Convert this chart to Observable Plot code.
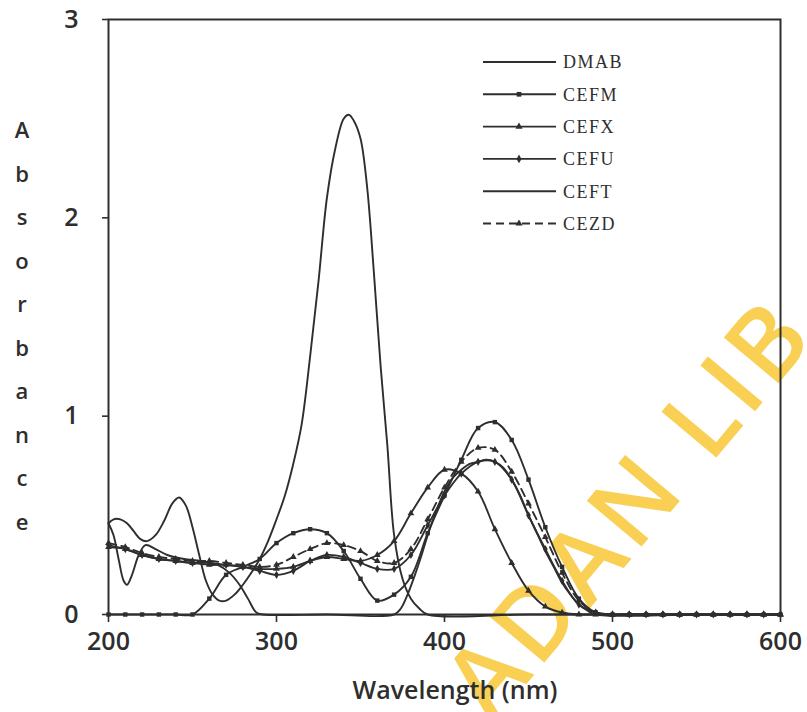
<!DOCTYPE html>
<html><head><meta charset="utf-8">
<script src="https://cdn.jsdelivr.net/npm/d3@7"></script>
<script src="https://cdn.jsdelivr.net/npm/@observablehq/plot@0.6"></script>
<style>
body{margin:0;background:#fff;overflow:hidden}
#wrap{position:relative;width:807px;height:712px;overflow:hidden;font-family:"Open Sans",sans-serif;color:#2e2e2e;background:#fff}
#wm{position:absolute;left:462px;top:650px;font-family:"Open Sans",sans-serif;font-weight:600;font-size:100px;color:rgba(248,200,60,0.88);transform-origin:0 50%;transform:rotate(-50deg);white-space:nowrap;letter-spacing:6px;line-height:1}
#chart{position:absolute;left:0;top:0}
#ylab{position:absolute;left:10px;top:108px;width:24px;text-align:center;font-size:22px;line-height:43.5px;font-weight:600}
#xlab{position:absolute;left:0;width:910px;top:672px;text-align:center;font-size:25px;font-weight:600;line-height:34px}
#legend{position:absolute;left:0;top:0}
</style></head><body>
<div id="wrap">
  <div id="wm">ADAN LIB</div>
  <div id="chart"></div>
  <div id="ylab"></div>
  <div id="xlab">Wavelength (nm)</div>
  <svg id="legend" width="807" height="712"></svg>
</div>
<script>
// ---- data ----
const wavelength = [200,210,220,230,240,250,260,270,280,290,300,310,320,330,340,350,360,370,380,390,400,410,420,430,440,450,460,470,480,490,500,510,520,530,540,550,560,570,580,590,600];
const cefm = [0,0,0,0,0,0,0.08,0.2,0.24,0.28,0.36,0.41,0.43,0.41,0.32,0.18,0.07,0.1,0.19,0.41,0.6,0.78,0.94,0.97,0.88,0.68,0.44,0.24,0.08,0.01,0,0,0,0,0,0,0,0,0,0,0];
const cefx = [0.34,0.33,0.3,0.28,0.27,0.26,0.25,0.25,0.24,0.23,0.23,0.24,0.27,0.29,0.28,0.27,0.3,0.37,0.51,0.64,0.73,0.71,0.62,0.43,0.26,0.12,0.04,0.01,0,0,0,0,0,0,0,0,0,0,0,0,0];
const cefu = [0.35,0.33,0.3,0.28,0.27,0.26,0.26,0.25,0.24,0.22,0.2,0.22,0.27,0.3,0.29,0.26,0.23,0.23,0.3,0.45,0.6,0.71,0.77,0.77,0.68,0.5,0.33,0.17,0.05,0.01,0,0,0,0,0,0,0,0,0,0,0];
const cezd = [0.36,0.34,0.31,0.29,0.28,0.27,0.27,0.26,0.25,0.24,0.25,0.29,0.33,0.36,0.35,0.32,0.27,0.26,0.33,0.48,0.64,0.77,0.84,0.83,0.72,0.56,0.39,0.21,0.07,0.01,0,0,0,0,0,0,0,0,0,0,0];
const dmabWl  = [200,203,207,211,215,219,223,228,233,238,242,246,250,254,258,262,266,270,275,280,285,290,295,300,305,310,315,320,325,330,335,340,343,346,350,354,358,362,366,370,375,380,385,390,450,500,550,600];
const dmabAbs = [0.46,0.48,0.48,0.46,0.42,0.38,0.37,0.4,0.47,0.56,0.59,0.55,0.44,0.3,0.17,0.1,0.07,0.07,0.1,0.15,0.21,0.28,0.37,0.48,0.6,0.76,0.96,1.3,1.68,2.1,2.35,2.5,2.52,2.49,2.4,2.15,1.72,1.25,0.85,0.4,0.18,0.08,0.03,0,0,0,0,0];
const ceftWl  = [200,203,206,209,211,214,218,222,228,235,245,255,265,272,278,283,288,292,330,370,374,378,382,386,390,395,400,405,410,415,420,425,430,435,440,445,450,455,460,465,470,475,480,485,490,550,600];
const ceftAbs = [0.46,0.4,0.28,0.17,0.15,0.2,0.3,0.35,0.33,0.3,0.28,0.27,0.25,0.21,0.15,0.08,0.01,0,0,0,0.03,0.1,0.19,0.29,0.4,0.52,0.62,0.69,0.73,0.76,0.77,0.78,0.77,0.74,0.68,0.6,0.5,0.41,0.32,0.24,0.16,0.1,0.05,0.02,0,0,0];
const seriesNames = ["DMAB","CEFM","CEFX","CEFU","CEFT","CEZD"];
const xTicks = [200,300,400,500,600];
const yTicks = [0,1,2,3];
const yTitle = "Absorbance";

// ---- build tables ----
const rows = [];
dmabWl.forEach((w,i)=>rows.push({series:"DMAB", wl:w, abs:dmabAbs[i]}));
ceftWl.forEach((w,i)=>rows.push({series:"CEFT", wl:w, abs:ceftAbs[i]}));
const markerSets = {CEFM:cefm, CEFX:cefx, CEFU:cefu, CEZD:cezd};
const markRows = [];
for (const [name, vals] of Object.entries(markerSets)) {
  wavelength.forEach((w,i)=>{ const r={series:name, wl:w, abs:vals[i]}; rows.push(r); markRows.push(r); });
}
const ink = "#2e2e2e";
const symbolOf = {CEFM:"square", CEFX:"triangle", CEFU:"diamond", CEZD:"triangle"};

const lineMark = (name, extra={}) => Plot.line(rows.filter(d=>d.series===name), {x:"wl", y:"abs", curve:"catmull-rom", stroke:ink, strokeWidth:1.9, ...extra});

const chart = Plot.plot({
  width:807, height:712,
  marginLeft:108, marginRight:27, marginTop:19, marginBottom:98,
  x:{domain:[200,600]},
  y:{domain:[0,3]},
  style:{fontFamily:"Open Sans", fontSize:"25px", color:ink, background:"transparent", overflow:"visible"},
  marks:[
    Plot.axisX({ticks:xTicks, tickSize:8, tickPadding:10, label:null, fontWeight:600, strokeWidth:1.6, tickFormat:"d"}),
    Plot.axisY({ticks:yTicks, tickSize:6, tickPadding:24, label:null, fontWeight:600, strokeWidth:1.6, tickFormat:"d"}),
    lineMark("DMAB"),
    lineMark("CEFT"),
    lineMark("CEFM"),
    lineMark("CEFX"),
    lineMark("CEFU"),
    lineMark("CEZD", {strokeDasharray:"8,5"}),
    ...["CEFM","CEFX","CEFU","CEZD"].map(n => Plot.dot(markRows.filter(d=>d.series===n), {x:"wl", y:"abs", symbol:symbolOf[n], r:2.5, fill:ink, stroke:"none"})),
    Plot.frame({stroke:ink, strokeWidth:2})
  ]
});
document.getElementById("chart").appendChild(chart);

// y title stacked letters
document.getElementById("ylab").innerHTML = yTitle.split("").map(c=>`<div>${c}</div>`).join("");

// legend
const lg = d3.select("#legend");
const ly0 = 62, ldy = 32.3;
seriesNames.forEach((n,i)=>{
  const y = ly0 + i*ldy;
  lg.append("line").attr("x1",483).attr("x2",556).attr("y1",y).attr("y2",y)
    .attr("stroke",ink).attr("stroke-width",1.9)
    .attr("stroke-dasharray", n==="CEZD" ? "8,5" : null);
  if (symbolOf[n]) {
    lg.append("path").attr("transform",`translate(519,${y})`)
      .attr("d", d3.symbol(n==="CEFM"?d3.symbolSquare:n==="CEFU"?d3.symbolDiamond:d3.symbolTriangle, 22)())
      .attr("fill",ink);
  }
  lg.append("text").attr("x",563).attr("y",y).attr("dy","0.35em")
    .attr("font-family","Liberation Serif").attr("font-size",18).attr("letter-spacing",1.5)
    .attr("fill",ink).text(n);
});
</script>
</body></html>
